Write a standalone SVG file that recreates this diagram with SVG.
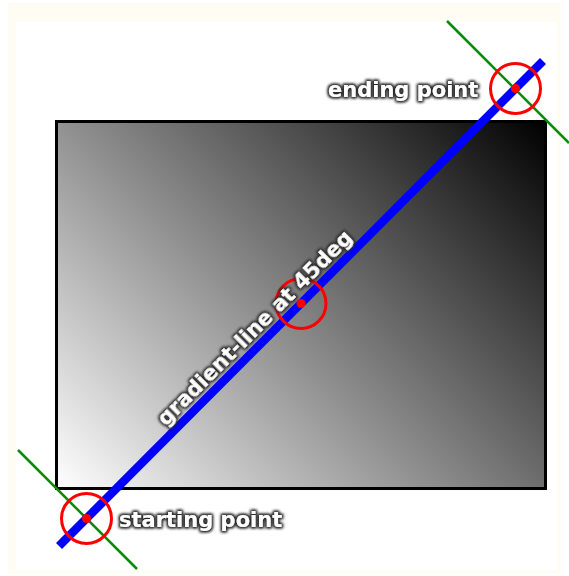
<svg xmlns="http://www.w3.org/2000/svg" width="569" height="576" viewBox="0 0 569 576">
  <defs>
    <linearGradient id="grad" gradientUnits="userSpaceOnUse" x1="86.5" y1="518.5" x2="515.5" y2="89.5">
      <stop offset="0" stop-color="#ffffff"/>
      <stop offset="1" stop-color="#000000"/>
    </linearGradient>
    <filter id="glow" x="-10%" y="-40%" width="120%" height="180%">
      <feMorphology in="SourceAlpha" operator="dilate" radius="1.2" result="d"/>
      <feGaussianBlur in="d" stdDeviation="1.6" result="b"/>
      <feFlood flood-color="#2a2a2a"/>
      <feComposite in2="b" operator="in" result="s"/>
      <feMerge>
        <feMergeNode in="s"/>
        <feMergeNode in="s"/>
        <feMergeNode in="SourceGraphic"/>
      </feMerge>
    </filter>
  </defs>
  <style>
    .lbl { font-family: "DejaVu Sans", Verdana, sans-serif; font-size: 21px; font-weight: bold; fill: #ffffff; filter: url(#glow); }
    .ring { fill: none; stroke: #ff0000; stroke-width: 3; }
    .dot { fill: #ff0000; }
    .perp { stroke: #0a8a0a; stroke-width: 2.5; }
  </style>
  <rect x="0" y="0" width="569" height="576" fill="#ffffff"/>
  <rect x="8" y="3" width="553" height="571" fill="#fefcf3"/>
  <rect x="16" y="22" width="541" height="548" fill="#ffffff"/>

  <g id="box">
    <rect x="56.5" y="121.5" width="489" height="367" fill="url(#grad)" stroke="#000000" stroke-width="3"/>
  </g>

  <g id="connectors">
    <line class="perp" x1="18" y1="450" x2="137" y2="569"/>
    <line class="perp" x1="447" y1="21" x2="569" y2="143"/>
    <line x1="59" y1="546" x2="543" y2="61" stroke="#0000ff" stroke-width="8.5"/>
  </g>

  <g id="start-point">
    <circle class="ring" cx="86.5" cy="518.5" r="25"/>
    <circle class="dot" cx="86.5" cy="518.5" r="4.5"/>
    <text class="lbl" x="119" y="527">starting point</text>
  </g>

  <g id="mid-point">
    <circle class="ring" cx="301" cy="303.5" r="25"/>
    <circle class="dot" cx="301" cy="303.5" r="4.5"/>
    <text class="lbl" x="166" y="427" transform="rotate(-45 166 427)">gradient-line at 45deg</text>
  </g>

  <g id="end-point">
    <circle class="ring" cx="515.5" cy="88.5" r="25"/>
    <circle class="dot" cx="515.5" cy="88.5" r="4.5"/>
    <text class="lbl" x="328" y="97">ending point</text>
  </g>
</svg>
